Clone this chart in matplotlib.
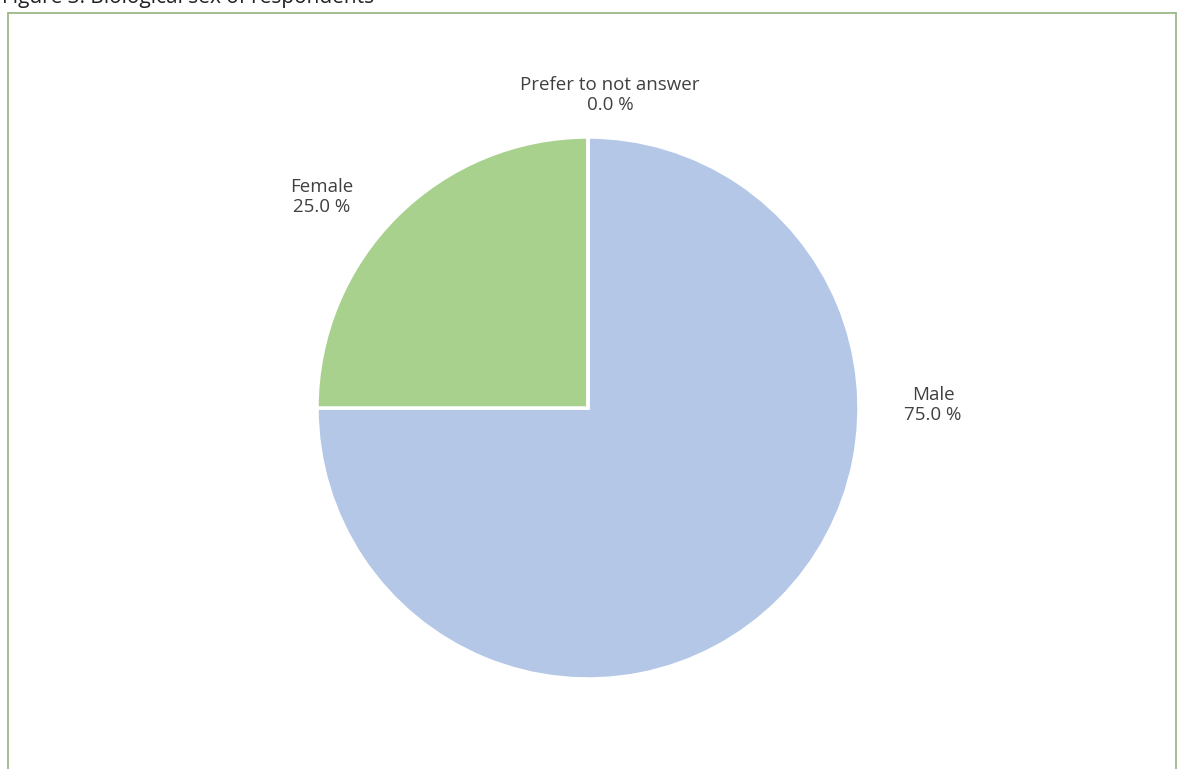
import matplotlib.pyplot as plt
from matplotlib.patches import Rectangle

categories = ['Male', 'Female', 'Prefer to not answer']
shares = [75.0, 25.0, 0.0]
colors = ['#B4C7E7', '#A9D18E', '#F4B183']
title = 'Figure 3: Biological sex of respondents'

W, H = 1180, 769
fig = plt.figure(figsize=(W / 100, H / 100), dpi=100)
ax = fig.add_axes([0, 0, 1, 1])

cx, cy, r = 588, H - 408, 271
wedges, _ = ax.pie(shares, colors=colors, startangle=90, counterclock=False,
                   center=(cx, cy), radius=r, frame=True,
                   wedgeprops=dict(edgecolor='white', linewidth=2.5))
ax.set_xlim(0, W)
ax.set_ylim(0, H)
ax.set_aspect('equal')
ax.axis('off')

# label positions (pixel coords from top-left)
label_pos = {'Male': (933, 405), 'Female': (322, 197), 'Prefer to not answer': (610, 95)}
for cat, val in zip(categories, shares):
    x, y = label_pos[cat]
    ax.text(x, H - y, f'{cat}\n{val:.1f} %', ha='center', va='center',
            fontsize=13.5, color='#404040', family='Open Sans', linespacing=1.2)

# chart frame
ax.add_patch(Rectangle((8, -5), 1168, H - 13 + 5, fill=False,
                       edgecolor='#9DB88A', linewidth=1.3))

# caption, cut at the top edge as in the source
ax.text(2, H + 3, title, ha='left', va='center', fontsize=15,
        color='#222222', family='Open Sans')

fig.savefig('out.png', dpi=100)
